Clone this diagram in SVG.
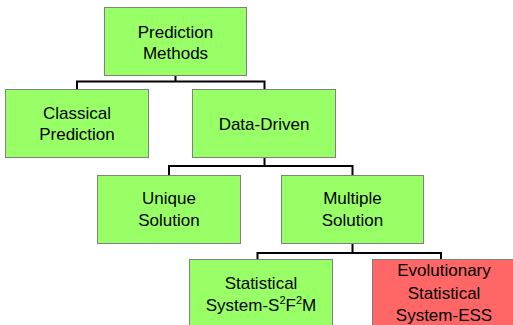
<svg xmlns="http://www.w3.org/2000/svg" width="513" height="325" viewBox="0 0 513 325">
<style>
.box{fill:#99FF66;stroke:#808080;stroke-width:1}
.red{fill:#FF6666;stroke:#808080;stroke-width:1}
.t{font-family:"Liberation Sans",Arial,sans-serif;font-size:17px;fill:#000;text-anchor:middle}
.c{fill:none;stroke:#000;stroke-width:2}
</style>
<rect width="513" height="325" fill="#fff"/>
<g id="connectors">
<path class="c" d="M175.5,75.5V81.5M77,89V81.5H264.5V89"/>
<path class="c" d="M264.5,157V166M169,175V166H352.5V175"/>
<path class="c" d="M352.5,243V253M257.5,259V253H441V259"/>
</g>
<g id="n-prediction">
<rect class="box" x="104.5" y="7.5" width="142" height="68"/>
<text class="t" x="175.5" y="37.5">Prediction</text>
<text class="t" x="175.5" y="58.5">Methods</text>
</g>
<g id="n-classical">
<rect class="box" x="5.5" y="89.5" width="143" height="68"/>
<text class="t" x="77" y="118.5">Classical</text>
<text class="t" x="77" y="140">Prediction</text>
</g>
<g id="n-datadriven">
<rect class="box" x="192.5" y="89.5" width="143" height="68"/>
<text class="t" x="264" y="129.5">Data-Driven</text>
</g>
<g id="n-unique">
<rect class="box" x="97.5" y="175.5" width="143" height="68"/>
<text class="t" x="169" y="203.5">Unique</text>
<text class="t" x="169" y="225.5">Solution</text>
</g>
<g id="n-multiple">
<rect class="box" x="281.5" y="175.5" width="142" height="68"/>
<text class="t" x="352.5" y="203.5">Multiple</text>
<text class="t" x="352.5" y="225.5">Solution</text>
</g>
<g id="n-statistical">
<rect class="box" x="189.5" y="259.5" width="143" height="68"/>
<text class="t" x="261" y="288.5">Statistical</text>
<text class="t" x="261" y="311">System-S<tspan font-size="11" dy="-7">2</tspan><tspan dy="7">F</tspan><tspan font-size="11" dy="-7">2</tspan><tspan dy="7">M</tspan></text>
</g>
<g id="n-evolutionary">
<rect class="red" x="372.5" y="259.5" width="143" height="68"/>
<text class="t" x="444" y="276">Evolutionary</text>
<text class="t" x="444" y="298.5">Statistical</text>
<text class="t" x="444" y="321">System-ESS</text>
</g>
</svg>
